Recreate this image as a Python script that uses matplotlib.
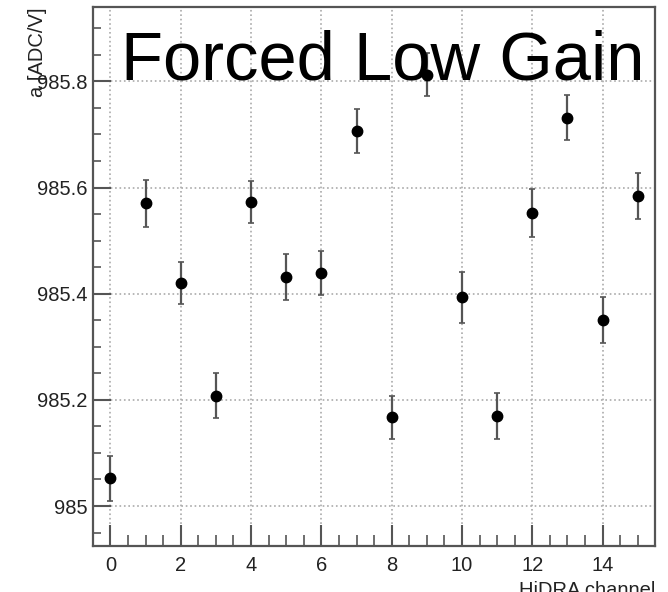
import matplotlib
matplotlib.use("Agg")
import matplotlib.pyplot as plt
from matplotlib.ticker import MultipleLocator, FormatStrFormatter

plt.rcParams['font.family'] = ['Liberation Sans', 'DejaVu Sans']

# Datos
channels = list(range(16))
gain = [985.052, 985.570, 985.420, 985.208, 985.573, 985.431, 985.439, 985.707,
        985.167, 985.813, 985.393, 985.169, 985.552, 985.732, 985.351, 985.584]
gain_err = [0.043, 0.044, 0.040, 0.042, 0.040, 0.043, 0.041, 0.041,
            0.040, 0.041, 0.048, 0.043, 0.045, 0.043, 0.043, 0.043]

fig = plt.figure(figsize=(6.68, 5.92), dpi=100)
ax = fig.add_axes([0.139, 0.078, 0.842, 0.910])

ax.errorbar(channels, gain, yerr=gain_err, fmt='o', color='black', ecolor='#555555',
            elinewidth=1.6, capsize=2.5, capthick=1.2, markersize=7.5, zorder=3)

ax.set_xlim(-0.5, 15.5)
ax.set_ylim(984.925, 985.94)

ax.xaxis.set_major_locator(MultipleLocator(2))
ax.xaxis.set_minor_locator(MultipleLocator(0.5))
ax.yaxis.set_major_locator(MultipleLocator(0.2))
ax.yaxis.set_minor_locator(MultipleLocator(0.05))
ax.yaxis.set_major_formatter(FormatStrFormatter('%g'))

ax.tick_params(axis='both', which='both', direction='in', color='#555555',
               labelsize=14.5, labelcolor='#222222')
ax.tick_params(axis='x', which='major', length=15, width=1.5, pad=7)
ax.tick_params(axis='x', which='minor', length=8, width=1.2)
ax.tick_params(axis='y', which='major', length=13, width=1.5, pad=4)
ax.tick_params(axis='y', which='minor', length=6, width=1.2)

for s in ax.spines.values():
    s.set_color('#555555')
    s.set_linewidth(1.6)

ax.grid(True, which='major', linestyle=':', color='#aaaaaa', linewidth=1.2)

ax.set_xlabel('HiDRA channel', fontsize=14.5, loc='right', color='#222222', labelpad=5)
ax.set_ylabel('a [ADC/V]', fontsize=14.5, loc='top', color='#222222', labelpad=-7)

ax.text(0.981, 0.866, 'Forced Low Gain', transform=ax.transAxes, fontsize=49.5,
        ha='right', va='baseline', color='black')

fig.savefig('out.png', dpi=100)
